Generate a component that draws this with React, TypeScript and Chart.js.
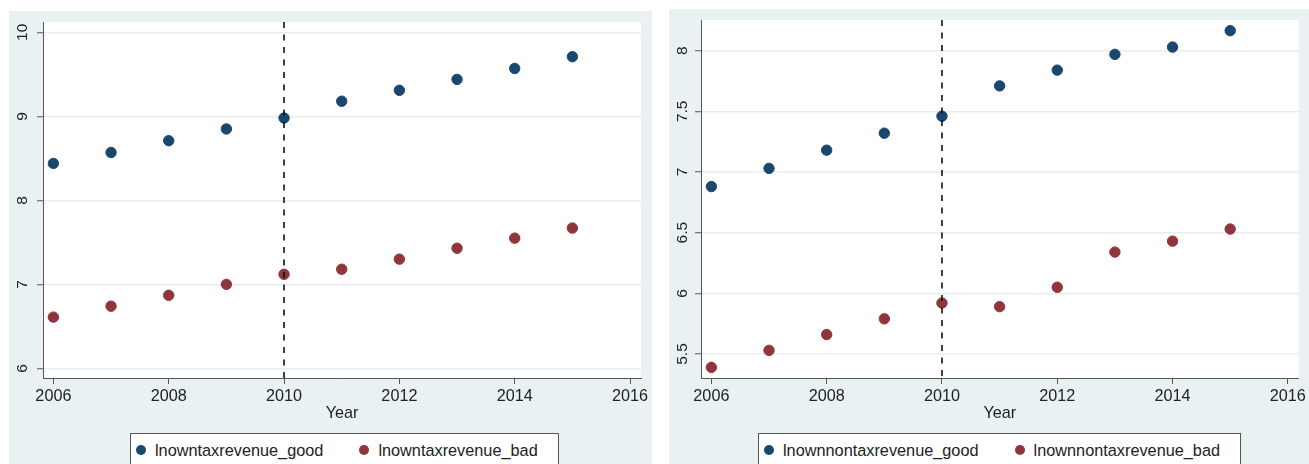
import React, { useEffect, useRef } from "react";
import { Chart, registerables } from "chart.js";

Chart.register(...registerables);

// ---------- data ----------
const years = [2006, 2007, 2008, 2009, 2010, 2011, 2012, 2013, 2014, 2015];
const xTickValues = [2006, 2008, 2010, 2012, 2014, 2016];
const cutoffYear = 2010;
const xAxisTitle = "Year";

const taxGood = [8.44, 8.57, 8.71, 8.85, 8.98, 9.18, 9.31, 9.44, 9.57, 9.71];
const taxBad = [6.61, 6.74, 6.87, 7.0, 7.12, 7.18, 7.3, 7.43, 7.55, 7.67];
const taxLabels = ["lnowntaxrevenue_good", "lnowntaxrevenue_bad"];
const taxYTicks = [6, 7, 8, 9, 10];

const nontaxGood = [6.88, 7.03, 7.18, 7.32, 7.46, 7.71, 7.84, 7.97, 8.03, 8.165];
const nontaxBad = [5.39, 5.53, 5.66, 5.79, 5.92, 5.89, 6.05, 6.34, 6.43, 6.53];
const nontaxLabels = ["lnownnontaxrevenue_good", "lnownnontaxrevenue_bad"];
const nontaxYTicks = [5.5, 6, 6.5, 7, 7.5, 8];

// ---------- styles ----------
const NAVY = "#1a476f";
const MAROON = "#90353b";
const PANEL_BG = "#eaf1f3";
const GRID = "#e6eef1";
const AXIS = "#555555";
const TEXT = "#222222";
const FONT = '"Liberation Sans", Arial, Helvetica, sans-serif';

const plotBgPlugin = {
  id: "plotBg",
  beforeDraw(chart: any) {
    const { ctx, chartArea: a } = chart;
    ctx.save();
    ctx.fillStyle = "#ffffff";
    ctx.fillRect(a.left, a.top, a.right - a.left, a.bottom - a.top);
    ctx.restore();
  },
};

const yRotLabelsPlugin = {
  id: "yRotLabels",
  afterDraw(chart: any) {
    const s = chart.scales.y;
    const ctx = chart.ctx;
    ctx.save();
    ctx.fillStyle = TEXT;
    ctx.font = `15.5px ${FONT}`;
    ctx.textAlign = "center";
    ctx.textBaseline = "alphabetic";
    s.ticks.forEach((t: any) => {
      const y = s.getPixelForValue(t.value);
      ctx.save();
      ctx.translate(s.left + 18, y);
      ctx.rotate(-Math.PI / 2);
      ctx.fillText(String(t.value), 0, 0);
      ctx.restore();
    });
    ctx.restore();
  },
};

type PanelProps = {
  left: number;
  top: number;
  width: number;
  height: number;
  canvasHeight: number;
  good: number[];
  bad: number[];
  labels: string[];
  yTicks: number[];
  yMin: number;
  yMax: number;
  xMin: number;
  xMax: number;
  padTop: number;
  padRight: number;
  yWidth: number;
  legendLeft: number;
  legendTop: number;
};

function Panel(p: PanelProps) {
  const ref = useRef<HTMLCanvasElement | null>(null);

  useEffect(() => {
    if (!ref.current) return;
    const chart = new Chart(ref.current, {
      type: "scatter",
      data: {
        datasets: [
          {
            type: "line",
            label: "cutoff",
            data: [
              { x: cutoffYear, y: p.yMax },
              { x: cutoffYear, y: p.yMin },
            ],
            borderColor: "#111111",
            borderWidth: 1.6,
            borderDash: [6, 6.5],
            pointRadius: 0,
            fill: false,
            order: -1,
          } as any,
          {
            label: p.labels[0],
            data: years.map((x, i) => ({ x, y: p.good[i] })),
            backgroundColor: NAVY,
            borderColor: NAVY,
            borderWidth: 1,
            pointRadius: 5.2,
          },
          {
            label: p.labels[1],
            data: years.map((x, i) => ({ x, y: p.bad[i] })),
            backgroundColor: MAROON,
            borderColor: MAROON,
            borderWidth: 1,
            pointRadius: 5.2,
          },
        ],
      },
      options: {
        animation: false,
        responsive: false,
        devicePixelRatio: 1,
        layout: { padding: { left: 0, top: p.padTop, right: p.padRight, bottom: 0 } },
        plugins: { legend: { display: false }, tooltip: { enabled: false } },
        scales: {
          x: {
            type: "linear",
            min: p.xMin,
            max: p.xMax,
            afterBuildTicks: (s: any) => {
              s.ticks = xTickValues.map((v) => ({ value: v }));
            },
            afterFit: (s: any) => {
              s.height = 53;
            },
            grid: {
              display: true,
              drawOnChartArea: false,
              tickLength: 6,
              tickColor: AXIS,
              tickWidth: 1,
            },
            border: { display: true, color: AXIS, width: 1 },
            ticks: {
              color: TEXT,
              font: { family: FONT, size: 16.2 },
              padding: 3,
              maxRotation: 0,
              autoSkip: false,
              callback: (v: any) => String(v),
            },
            title: {
              display: true,
              text: xAxisTitle,
              color: TEXT,
              font: { family: FONT, size: 16.2 },
              padding: { top: 0, bottom: 8 },
            },
          },
          y: {
            type: "linear",
            min: p.yMin,
            max: p.yMax,
            afterBuildTicks: (s: any) => {
              s.ticks = p.yTicks.map((v) => ({ value: v }));
            },
            afterFit: (s: any) => {
              s.width = p.yWidth;
            },
            grid: {
              color: GRID,
              lineWidth: 1.5,
              tickLength: 6,
              tickColor: AXIS,
              tickWidth: 1,
            },
            border: { display: true, color: AXIS, width: 1 },
            ticks: { display: false },
          },
        },
      } as any,
      plugins: [plotBgPlugin, yRotLabelsPlugin],
    });
    return () => chart.destroy();
  }, []);

  const dot = (c: string): React.CSSProperties => ({
    width: 10,
    height: 10,
    borderRadius: "50%",
    background: c,
    marginRight: 9,
    flex: "0 0 auto",
  });

  return (
    <div
      style={{
        position: "absolute",
        left: p.left,
        top: p.top,
        width: p.width,
        height: p.height,
        background: PANEL_BG,
        overflow: "hidden",
      }}
    >
      <canvas
        ref={ref}
        width={p.width}
        height={p.canvasHeight}
        style={{ position: "absolute", left: 0, top: 0, width: p.width, height: p.canvasHeight }}
      />
      <div
        style={{
          position: "absolute",
          left: p.legendLeft,
          top: p.legendTop,
          height: 40,
          background: "#ffffff",
          border: `1px solid ${AXIS}`,
          display: "flex",
          alignItems: "flex-start",
          paddingLeft: 5,
          paddingRight: 20,
          paddingTop: 7,
          boxSizing: "border-box",
          fontFamily: FONT,
          fontSize: 16.3,
          lineHeight: "18px",
          color: TEXT,
          whiteSpace: "nowrap",
        }}
      >
        <div style={{ ...dot(NAVY), marginTop: 4 }} />
        <span>{p.labels[0]}</span>
        <div style={{ ...dot(MAROON), marginTop: 4, marginLeft: 36 }} />
        <span>{p.labels[1]}</span>
      </div>
    </div>
  );
}

export default function App() {
  return (
    <div
      style={{
        position: "absolute",
        left: 0,
        top: 0,
        width: 1309,
        height: 464,
        background: "#ffffff",
        overflow: "hidden",
      }}
    >
      <Panel
        left={9}
        top={11}
        width={643}
        height={453}
        canvasHeight={420}
        good={taxGood}
        bad={taxBad}
        labels={taxLabels}
        yTicks={taxYTicks}
        yMin={5.885}
        yMax={10.123}
        xMin={2005.82}
        xMax={2016.19}
        padTop={11}
        padRight={11}
        yWidth={34}
        legendLeft={121}
        legendTop={422}
      />
      <Panel
        left={669}
        top={9}
        width={640}
        height={455}
        canvasHeight={422}
        good={nontaxGood}
        bad={nontaxBad}
        labels={nontaxLabels}
        yTicks={nontaxYTicks}
        yMin={5.302}
        yMax={8.253}
        xMin={2005.82}
        xMax={2016.19}
        padTop={11}
        padRight={8}
        yWidth={32}
        legendLeft={89}
        legendTop={424}
      />
    </div>
  );
}
